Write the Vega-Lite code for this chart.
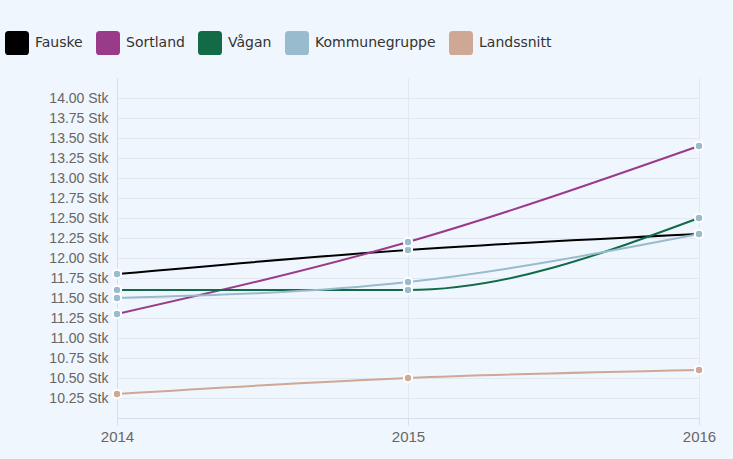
{
  "$schema": "https://vega.github.io/schema/vega-lite/v6.json",
  "width": 582,
  "height": 340,
  "autosize": "none",
  "padding": {"left": 117, "top": 78, "right": 34, "bottom": 41},
  "background": "#f0f6fd",
  "config": {
    "view": {"stroke": null},
    "axis": {"gridColor": "#e2e8f0", "domainColor": "#d8dee8", "tickColor": "#d8dee8"}
  },
  "data": {
    "values": [
      {"year": 2014, "series": "Fauske", "value": 11.8},
      {"year": 2015, "series": "Fauske", "value": 12.1},
      {"year": 2016, "series": "Fauske", "value": 12.3},
      {"year": 2014, "series": "Sortland", "value": 11.3},
      {"year": 2015, "series": "Sortland", "value": 12.2},
      {"year": 2016, "series": "Sortland", "value": 13.4},
      {"year": 2014, "series": "Vågan", "value": 11.6},
      {"year": 2015, "series": "Vågan", "value": 11.6},
      {"year": 2016, "series": "Vågan", "value": 12.5},
      {"year": 2014, "series": "Kommunegruppe", "value": 11.5},
      {"year": 2015, "series": "Kommunegruppe", "value": 11.7},
      {"year": 2016, "series": "Kommunegruppe", "value": 12.3},
      {"year": 2014, "series": "Landssnitt", "value": 10.3},
      {"year": 2015, "series": "Landssnitt", "value": 10.5},
      {"year": 2016, "series": "Landssnitt", "value": 10.6}
    ]
  },
  "encoding": {
    "x": {
      "field": "year", "type": "ordinal",
      "scale": {"type": "point", "padding": 0},
      "axis": {"title": null, "labelAngle": 0, "grid": true, "ticks": true, "tickSize": 7, "labelPadding": 4, "domain": true, "labelFont": "Liberation Sans", "labelFontSize": 15, "labelColor": "#666666"}
    },
    "y": {
      "field": "value", "type": "quantitative",
      "scale": {"domain": [10, 14.25], "nice": false, "zero": false},
      "axis": {"title": null, "values": [10.25, 10.5, 10.75, 11, 11.25, 11.5, 11.75, 12, 12.25, 12.5, 12.75, 13, 13.25, 13.5, 13.75, 14], "labelExpr": "format(datum.value, '.2f') + ' Stk'", "ticks": false, "labelPadding": 9, "domain": true, "labelOverlap": false, "labelFont": "Liberation Sans", "labelFontSize": 14, "labelColor": "#666666"}
    }
  },
  "layer": [
    {
      "mark": {"type": "line", "interpolate": "monotone", "strokeWidth": 2},
      "encoding": {
        "color": {
          "field": "series", "type": "nominal",
          "scale": {"domain": ["Fauske", "Sortland", "Vågan", "Kommunegruppe", "Landssnitt"], "range": ["#000000", "#9a3b8a", "#126a47", "#98bbcd", "#cea894"]},
          "legend": {
            "title": null,
            "orient": "none",
            "legendX": -112,
            "legendY": -47,
            "direction": "horizontal",
            "symbolType": "M-0.7,-1H0.7Q1,-1 1,-0.7V0.7Q1,1 0.7,1H-0.7Q-1,1 -1,0.7V-0.7Q-1,-1 -0.7,-1Z",
            "symbolSize": 576,
            "symbolStrokeWidth": 0,
            "labelFont": "DejaVu Sans",
            "labelFontSize": 14,
            "labelColor": "#333333",
            "labelOffset": 6,
            "columnPadding": 13,
            "encode": {"symbols": {"update": {"fill": {"scale": "color", "field": "value"}, "fillOpacity": {"value": 1}}}}
          }
        }
      }
    },
    {
      "mark": {"type": "point", "filled": true, "size": 70, "stroke": "white", "strokeWidth": 2, "opacity": 1},
      "encoding": {
        "color": {"condition": {"test": "datum.series === 'Landssnitt'", "value": "#cea894"}, "value": "#98bbcd"},
        "detail": {"field": "series"}
      }
    }
  ]
}
